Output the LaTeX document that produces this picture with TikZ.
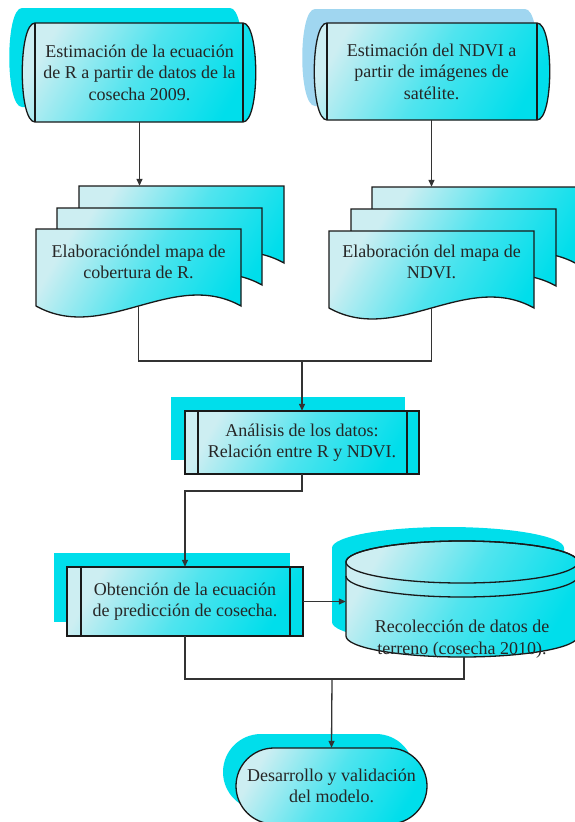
\documentclass[tikz,border=0pt]{standalone}
\usepackage{fontspec}
\setmainfont{Liberation Serif}
\usetikzlibrary{arrows.meta}
\definecolor{cyanD}{RGB}{0,222,235}
\definecolor{cyanM}{RGB}{80,228,238}
\definecolor{cyanL}{RGB}{205,238,242}
\definecolor{shadowB}{RGB}{160,214,240}
\newcommand\mySD[5]{\path[#1] (#2,#4) -- (#3,#4) .. controls ({#3+17},#4) and ({#3+17},#5) .. (#3,#5) -- (#2,#5) .. controls ({#2-17},#5) and ({#2-17},#4) .. (#2,#4) -- cycle;}
\newcommand\myDoc[3]{\path[#1] (#2,#3) -- ({#2+205},#3) -- ({#2+205},{#3+77}) .. controls ({#2+136.7},{#3+39}) and ({#2+68.3},{#3+115}) .. (#2,{#3+77}) -- cycle;}
\newcommand\myCyl[1]{\path[#1] (346,562) -- (346,636) arc[start angle=180,end angle=0,x radius=116,y radius=21] -- (578,562) arc[start angle=0,end angle=-180,x radius=116,y radius=21] -- cycle;}
\tikzset{
  shp/.style={draw=black!90, line width=1.3pt, left color=cyanL, right color=cyanD, middle color=cyanM, shading angle=60},
  shd/.style={fill=cyanD, draw=none},
  shdb/.style={fill=shadowB, draw=none},
  ln/.style={draw=black!80, line width=1.3pt},
  arr/.style={ln, -{Triangle[length=7pt,width=6pt]}},
  lbl/.style={align=center, text=black!85, font=\fontsize{18}{21.5}\selectfont, inner sep=0pt},
  geo/.style={draw=none, inner sep=0pt},
  sep/.style={draw=black!90, line width=1.3pt}
}
\begin{document}
\begin{tikzpicture}[x=1pt,y=-1pt]
\useasboundingbox (0,0) rectangle (575,822);
\clip (0,0) rectangle (575,822);
% box 1
\begin{scope}[shift={(-13,-15)}]\mySD{shd}{35}{243}{23}{122}\end{scope}
\mySD{shp}{35}{243}{23}{122}
\draw[sep] (35,23) -- (35,122) (243,23) -- (243,122);
\node[lbl, geo, minimum width=233, minimum height=99] (b1) at (139.5,72.5) {Estimación de la ecuación\\de R a partir de datos de la\\cosecha 2009.};
% box 2
\begin{scope}[shift={(-12,-14)}]\mySD{shdb}{327}{537}{23}{120}\end{scope}
\mySD{shp}{327}{537}{23}{120}
\draw[sep] (327,23) -- (327,120) (537,23) -- (537,120);
\node[lbl, geo, minimum width=235, minimum height=97] (b2) at (431.5,71.5) {Estimación del NDVI a\\partir de imágenes de\\satélite.};
% document stack 1
\myDoc{shp}{79}{186}
\myDoc{shp}{57}{208}
\myDoc{shp}{36}{229}
\node[geo, minimum width=205, minimum height=77] (d1b) at (181.5,224.5) {};
\node[lbl] (d1) at (138.5,262) {Elaboracióndel mapa de\\cobertura de R.};
% document stack 2
\myDoc{shp}{372}{187}
\myDoc{shp}{351}{209}
\myDoc{shp}{329}{231}
\node[geo, minimum width=205, minimum height=77] (d2b) at (474.5,225.5) {};
\node[lbl] (d2) at (431.5,262) {Elaboración del mapa de\\NDVI.};
% box 3
\fill[cyanD] (171,397) rectangle (405,460);
\path[shp] (185,411) rectangle (419,474);
\draw[sep] (198,411) -- (198,474) (407,411) -- (407,474);
\node[lbl, geo, minimum width=234, minimum height=63] (b3) at (302,442.5) {Análisis de los datos:\\Relación entre R y NDVI.};
% box 4
\fill[cyanD] (54,553) rectangle (290,622);
\path[shp] (67,567) rectangle (303,636);
\draw[sep] (81,567) -- (81,636) (290,567) -- (290,636);
\node[lbl, geo, minimum width=236, minimum height=69] (b4) at (185,601.5) {Obtención de la ecuación\\de predicción de cosecha.};
% cylinder
\begin{scope}[shift={(-14,-14)}]\myCyl{shd}\end{scope}
\myCyl{shp}
\draw[sep] (462,562) ellipse [x radius=116, y radius=21];
\draw[sep] (346,576) arc[start angle=180,end angle=0,x radius=116,y radius=21];
\node[geo, minimum width=232, minimum height=116] (cyl) at (462,599) {};
\node[lbl] (cylt) at (462,639) {Recolección de datos de\\terreno (cosecha 2010).};
% oval
\fill[cyanD, rounded corners=38] (223,734) rectangle (414,810);
\path[shp, rounded corners=38] (236,748) rectangle (427,824);
\node[lbl, geo, minimum width=191, minimum height=76] (ov) at (331.5,786) {Desarrollo y validación\\del modelo.};
% connectors
\coordinate (d1o) at (138.5,306);
\coordinate (d2o) at (431.5,308);
\coordinate (j1) at (302,361);
\coordinate (k1) at (302,491);
\coordinate (k2) at (185,491);
\coordinate (cb) at (464,657);
\coordinate (m1) at (332,679);
\coordinate (m2) at (464,679);
\draw[arr] (b1.south) -- (b1.south |- d1b.north);
\draw[arr] (b2.south) -- (b2.south |- d2b.north);
\draw[ln] (d1o) |- (j1);
\draw[ln] (d2o) |- (j1);
\draw[arr] (j1) -- (b3.north);
\draw[arr] (b3.south) -- (k1) -- (k2) -- (b4.north);
\draw[arr] (b4.east) -- (b4.east -| cyl.west);
\draw[ln] (b4.south) |- (m2) -- (cb);
\draw[arr] (m1) -- (ov.north);
\end{tikzpicture}
\end{document}
